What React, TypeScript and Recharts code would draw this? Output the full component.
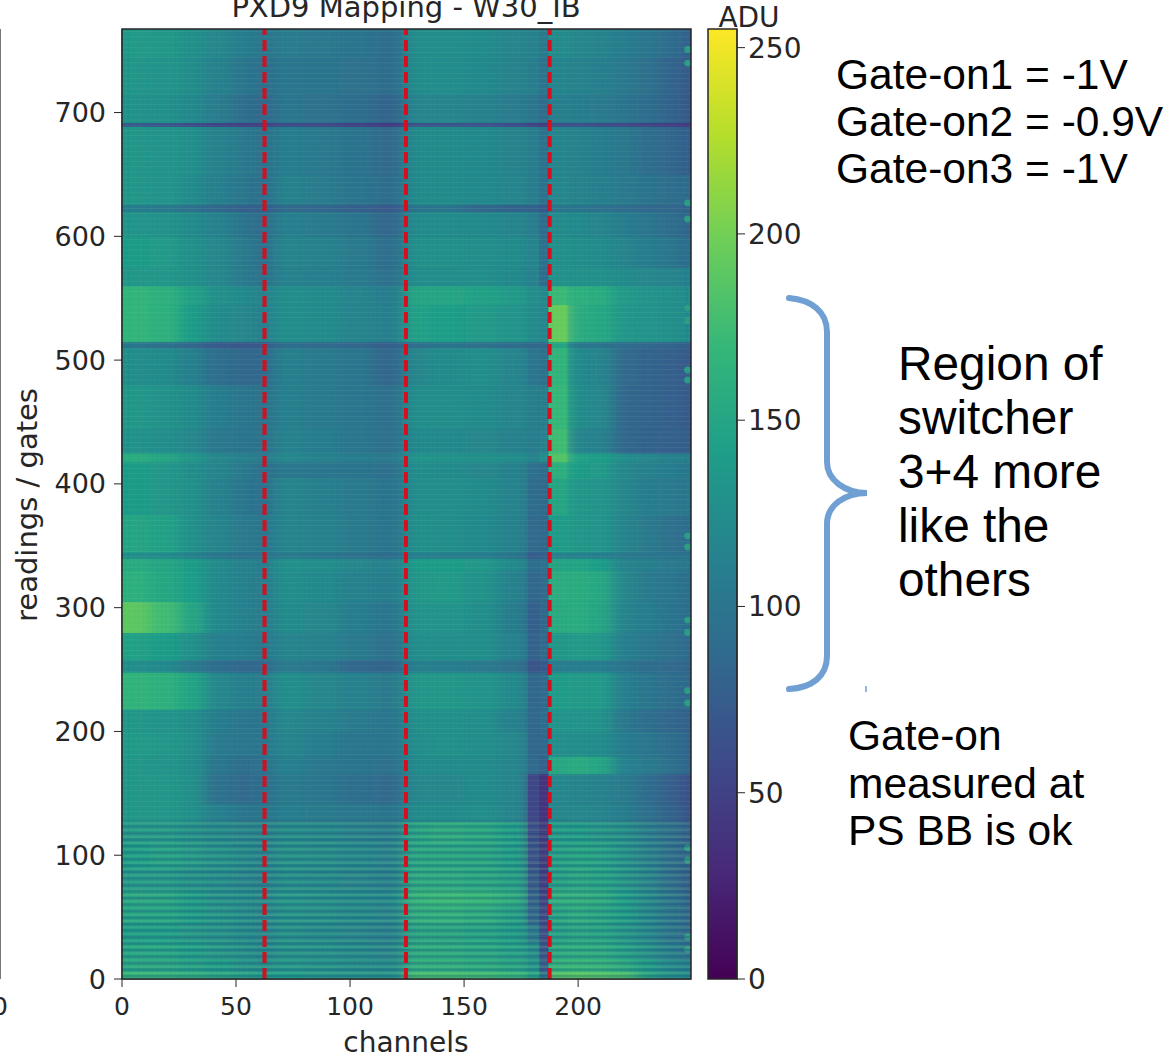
import { BarChart, Bar, ScatterChart, Scatter, XAxis, YAxis, ReferenceLine, ReferenceArea } from 'recharts'

// column and row edges of the heatmap blocks, in channels / readings
const colEdges = [0, 12, 25, 36, 48, 58, 66, 80, 95, 110, 124, 135, 150, 165, 178, 183, 187, 195, 205, 215, 225, 235, 245, 250]
const rowEdges = [0, 6, 16, 30, 45, 60, 72, 90, 110, 127, 142, 166, 180, 200, 218, 248, 258, 280, 305, 330, 340, 345, 375, 405, 418, 425, 445, 480, 510, 515, 545, 560, 575, 600, 620, 626, 650, 689, 692, 715, 745, 768]

// ADU, bottom row first
const adu = [
  [168, 165, 160, 152, 145, 140, 140, 135, 130, 128, 178, 178, 175, 170, 150, 100, 185, 188, 185, 180, 150, 130, 120],
  [150, 150, 145, 140, 132, 125, 135, 130, 125, 122, 160, 160, 158, 150, 135, 75, 165, 168, 165, 155, 140, 120, 110],
  [148, 148, 142, 135, 128, 120, 130, 128, 122, 118, 155, 155, 152, 145, 125, 68, 155, 158, 155, 145, 130, 110, 95],
  [142, 142, 135, 130, 122, 115, 128, 122, 118, 112, 150, 150, 148, 140, 105, 60, 145, 150, 148, 135, 120, 100, 85],
  [148, 148, 140, 132, 125, 118, 130, 128, 122, 118, 160, 162, 158, 145, 85, 55, 150, 155, 150, 140, 120, 100, 85],
  [150, 150, 140, 130, 125, 118, 132, 128, 122, 120, 168, 170, 168, 156, 80, 50, 160, 160, 155, 142, 122, 100, 80],
  [138, 138, 130, 125, 118, 112, 125, 122, 118, 112, 155, 155, 152, 145, 72, 45, 145, 150, 148, 135, 118, 95, 75],
  [142, 145, 138, 130, 122, 115, 128, 125, 120, 115, 152, 152, 150, 142, 65, 42, 145, 148, 145, 132, 115, 95, 80],
  [138, 138, 130, 122, 118, 112, 122, 120, 115, 110, 150, 155, 152, 142, 60, 42, 140, 140, 135, 128, 110, 95, 78],
  [135, 135, 128, 110, 100, 98, 108, 105, 102, 98, 122, 122, 125, 116, 55, 38, 118, 118, 115, 108, 95, 80, 65],
  [135, 135, 128, 95, 88, 90, 105, 100, 92, 88, 118, 118, 122, 116, 55, 38, 118, 115, 112, 105, 90, 78, 62],
  [135, 132, 125, 100, 92, 95, 110, 102, 98, 95, 122, 122, 122, 116, 88, 80, 152, 155, 150, 112, 105, 95, 82],
  [138, 135, 128, 105, 100, 100, 115, 108, 100, 98, 125, 128, 125, 118, 85, 85, 125, 125, 122, 108, 100, 92, 80],
  [135, 132, 125, 108, 100, 98, 118, 112, 105, 100, 128, 128, 125, 112, 85, 90, 132, 132, 130, 102, 92, 85, 78],
  [165, 162, 148, 118, 110, 106, 125, 118, 112, 105, 135, 135, 132, 120, 85, 88, 140, 138, 138, 110, 100, 92, 85],
  [125, 120, 105, 90, 85, 85, 105, 100, 85, 82, 110, 108, 105, 96, 68, 72, 108, 108, 108, 98, 90, 88, 82],
  [145, 140, 128, 110, 108, 100, 115, 112, 105, 95, 125, 125, 125, 112, 80, 88, 135, 138, 135, 110, 102, 95, 88],
  [190, 175, 150, 120, 112, 105, 122, 118, 108, 100, 132, 132, 125, 108, 78, 85, 155, 158, 150, 115, 108, 98, 90],
  [162, 152, 142, 120, 112, 105, 125, 120, 112, 108, 135, 138, 130, 112, 85, 88, 158, 158, 152, 118, 105, 100, 92],
  [155, 150, 140, 122, 112, 108, 128, 125, 118, 112, 140, 140, 135, 120, 92, 95, 148, 148, 142, 115, 110, 105, 100],
  [125, 122, 112, 100, 95, 95, 105, 100, 95, 90, 110, 108, 108, 98, 75, 78, 112, 112, 110, 105, 100, 98, 95],
  [150, 145, 128, 115, 105, 98, 115, 112, 105, 98, 128, 125, 120, 112, 88, 85, 140, 135, 132, 115, 105, 95, 90],
  [140, 135, 128, 112, 100, 92, 115, 110, 105, 98, 125, 125, 122, 114, 90, 88, 150, 135, 132, 118, 108, 105, 100],
  [140, 135, 125, 115, 105, 92, 102, 100, 98, 95, 125, 122, 118, 112, 95, 90, 160, 140, 138, 118, 112, 108, 102],
  [158, 150, 135, 118, 112, 105, 118, 112, 108, 105, 132, 130, 128, 124, 115, 125, 185, 145, 142, 125, 118, 112, 110],
  [130, 125, 118, 102, 98, 95, 112, 108, 100, 95, 120, 120, 118, 112, 108, 112, 175, 115, 112, 85, 80, 78, 75],
  [135, 130, 122, 108, 100, 95, 110, 105, 100, 95, 125, 125, 122, 116, 110, 108, 170, 122, 118, 85, 82, 78, 72],
  [125, 122, 110, 92, 85, 85, 110, 105, 100, 85, 118, 122, 125, 116, 100, 95, 165, 120, 115, 88, 82, 78, 72],
  [100, 95, 85, 72, 70, 72, 90, 88, 85, 78, 95, 98, 95, 90, 85, 85, 150, 100, 98, 90, 85, 82, 75],
  [168, 162, 140, 122, 118, 110, 125, 122, 115, 110, 145, 142, 138, 132, 122, 118, 195, 158, 152, 135, 132, 128, 120],
  [168, 162, 145, 128, 120, 112, 125, 122, 115, 108, 150, 150, 145, 138, 125, 120, 172, 162, 158, 138, 132, 128, 122],
  [135, 135, 128, 118, 105, 95, 112, 110, 105, 95, 125, 125, 125, 120, 112, 90, 130, 128, 128, 122, 118, 115, 110],
  [140, 138, 128, 118, 105, 92, 115, 112, 105, 92, 128, 128, 125, 122, 115, 95, 128, 125, 122, 115, 108, 100, 90],
  [132, 130, 122, 112, 98, 88, 110, 105, 98, 85, 122, 122, 120, 115, 108, 90, 122, 120, 115, 108, 100, 92, 82],
  [108, 105, 95, 85, 78, 75, 88, 85, 78, 72, 98, 98, 85, 80, 78, 72, 100, 98, 95, 90, 85, 85, 80],
  [134, 132, 122, 110, 100, 90, 112, 106, 98, 90, 122, 122, 120, 116, 108, 95, 118, 114, 110, 105, 98, 92, 88],
  [134, 132, 126, 112, 103, 95, 108, 103, 97, 88, 122, 122, 120, 114, 108, 95, 116, 113, 108, 102, 92, 85, 75],
  [70, 65, 58, 50, 46, 46, 58, 54, 48, 42, 64, 64, 62, 56, 48, 44, 60, 60, 58, 54, 50, 46, 42],
  [130, 128, 120, 106, 92, 85, 100, 96, 90, 82, 116, 116, 112, 106, 100, 90, 110, 108, 105, 98, 90, 80, 70],
  [134, 132, 124, 112, 100, 92, 100, 98, 96, 90, 124, 124, 120, 114, 108, 98, 116, 113, 110, 104, 95, 82, 72],
  [138, 136, 128, 118, 108, 100, 106, 103, 98, 90, 125, 125, 122, 116, 112, 105, 122, 118, 114, 108, 100, 90, 78],
]

const spotReadings = [751, 740, 627, 614, 542, 532, 492, 484, 358, 349, 290, 280, 233, 223, 106, 96, 34, 24]
const dividers = [62.5, 124.5, 187.5]
const sharpCols = [14, 15, 16]
const xTicks = [0, 50, 100, 150, 200]
const yTicks = [0, 100, 200, 300, 400, 500, 600, 700]
const aduTicks = [0, 50, 100, 150, 200, 250]
const colorbar = [{ name: 'ADU', top: 255 }]

const viridis = ['#440154', '#482878', '#3e4989', '#31688e', '#26828e', '#1f9e89', '#35b779', '#6ece58', '#b5de2b', '#fde725']

const X_MAX = 249.5
const Y_MAX = 767.5
const PLOT_W = 569
const PLOT_H = 950

function hex(c: string) {
  return [1, 3, 5].map((i) => parseInt(c.slice(i, i + 2), 16))
}

function aduColor(v: number) {
  const t = (Math.min(255, Math.max(0, v)) / 255) * (viridis.length - 1)
  const i = Math.min(viridis.length - 2, Math.floor(t))
  const a = hex(viridis[i])
  const b = hex(viridis[i + 1])
  const f = t - i
  return `rgb(${a.map((p, k) => Math.round(p + (b[k] - p) * f)).join(',')})`
}

const cells = adu.flatMap((row, r) =>
  row.map((v, c) => ({
    x: (colEdges[c] + colEdges[c + 1]) / 2,
    y: (rowEdges[r] + rowEdges[r + 1]) / 2,
    w: colEdges[c + 1] - colEdges[c],
    h: rowEdges[r + 1] - rowEdges[r],
    c,
    v,
  }))
)
// the notch and the bright strip next to it keep hard edges, the rest is smoothed sideways
const sharpCells = cells.filter((d) => sharpCols.includes(d.c))
const spots = spotReadings.map((y) => ({ x: 248, y }))

function HeatCell(props: any) {
  const { cx, cy, payload } = props
  const w = (payload.w * PLOT_W) / X_MAX
  const h = (payload.h * PLOT_H) / Y_MAX
  return <rect x={cx - w / 2} y={cy - h / 2} width={w + 0.6} height={h + 0.6} fill={aduColor(payload.v)} />
}

function Spot(props: any) {
  return <circle cx={props.cx} cy={props.cy} r={3.4} fill="#2a9c85" />
}

const ink = '#262626'
const font = 'DejaVu Sans'
const xTick = { fontSize: 25, fill: ink, fontFamily: font }
const yTick = { fontSize: 27, fill: ink, fontFamily: font }
const barTick = { fontSize: 28, fill: ink, fontFamily: font }
const note = { position: 'absolute', fontFamily: 'Liberation Sans', color: '#000', whiteSpace: 'pre' } as const

export default function App() {
  return (
    <div style={{ position: 'absolute', left: 0, top: 0, width: 1170, height: 1057, background: '#fff', overflow: 'hidden' }}>
      <style>{'.heat-cells{filter:url(#sideBlur)}'}</style>
      <div style={{ position: 'absolute', left: 0, top: 29, width: 1, height: 950, background: '#777' }} />
      <div style={{ position: 'absolute', left: -8, top: 992, fontFamily: font, fontSize: 25, color: ink }}>0</div>

      <div style={{ position: 'absolute', left: 0, top: 0 }}>
        <ScatterChart width={700} height={1057} margin={{ top: 29, right: 9, bottom: 0, left: 0 }}>
          <defs>
            <filter id="sideBlur" filterUnits="userSpaceOnUse" x="122" y="29" width="569" height="950">
              <feGaussianBlur in="SourceGraphic" stdDeviation="7 0.6" result="soft" />
              <feMerge>
                <feMergeNode in="SourceGraphic" />
                <feMergeNode in="soft" />
              </feMerge>
            </filter>
            <pattern id="fineGrid" patternUnits="userSpaceOnUse" width="4.6" height="5.2">
              <path d="M0 0H4.6" stroke="#9fe0a0" strokeOpacity="0.13" strokeWidth="1.3" />
              <path d="M0 0V5.2" stroke="#14304f" strokeOpacity="0.08" strokeWidth="1" />
            </pattern>
            <pattern id="lowStripes" patternUnits="userSpaceOnUse" width="6" height="6.5">
              <path d="M0 1.2H6" stroke="#1c3f72" strokeOpacity="0.25" strokeWidth="2.4" />
              <path d="M0 4.4H6" stroke="#a8e68a" strokeOpacity="0.14" strokeWidth="2" />
            </pattern>
          </defs>
          <XAxis
            type="number"
            dataKey="x"
            domain={[0, X_MAX]}
            ticks={xTicks}
            height={78}
            tickSize={8}
            tickMargin={10}
            tick={xTick}
            stroke={ink}
            allowDataOverflow
          />
          <YAxis
            type="number"
            dataKey="y"
            domain={[0, Y_MAX]}
            ticks={yTicks}
            width={122}
            tickSize={8}
            tickMargin={8}
            tick={yTick}
            stroke={ink}
            allowDataOverflow
          />
          <Scatter className="heat-cells" data={cells} shape={HeatCell} isAnimationActive={false} />
          <Scatter data={sharpCells} shape={HeatCell} isAnimationActive={false} />
          <Scatter data={spots} shape={Spot} isAnimationActive={false} />
          <ReferenceArea x1={0} x2={X_MAX} y1={0} y2={Y_MAX} fill="url(#fineGrid)" fillOpacity={1} stroke="none" zIndex={700} />
          <ReferenceArea x1={0} x2={X_MAX} y1={0} y2={128} fill="url(#lowStripes)" fillOpacity={1} stroke="none" zIndex={700} />
          {dividers.map((x) => (
            <ReferenceLine key={x} x={x} stroke="#d4101e" strokeWidth={4} strokeDasharray="11 5" zIndex={800} />
          ))}
          <ReferenceArea x1={0} x2={X_MAX} y1={0} y2={Y_MAX} fill="none" stroke={ink} strokeWidth={1.5} zIndex={900} />
          <text x={406} y={17} textAnchor="middle" fontFamily={font} fontSize={29} fill={ink}>
            PXD9 Mapping - W30_IB
          </text>
          <text x={406} y={1052} textAnchor="middle" fontFamily={font} fontSize={28} fill={ink}>
            channels
          </text>
          <text x={37} y={505} textAnchor="middle" transform="rotate(-90 37 505)" fontFamily={font} fontSize={29} fill={ink}>
            readings / gates
          </text>
        </ScatterChart>
      </div>

      <div style={{ position: 'absolute', left: 700, top: 0 }}>
        <BarChart width={120} height={1057} data={colorbar} barCategoryGap={0} margin={{ top: 29, right: 0, bottom: 78, left: 8 }}>
          <defs>
            <linearGradient id="viridisBar" x1="0" y1="1" x2="0" y2="0">
              {viridis.map((c, i) => (
                <stop key={c} offset={i / (viridis.length - 1)} stopColor={c} />
              ))}
            </linearGradient>
          </defs>
          <XAxis dataKey="name" hide />
          <YAxis orientation="right" type="number" domain={[0, 255]} ticks={aduTicks} width={83} tickSize={8} tickMargin={3} tick={barTick} stroke={ink} />
          <Bar dataKey="top" fill="url(#viridisBar)" stroke={ink} strokeWidth={1.5} isAnimationActive={false} />
          <text x={49} y={27} textAnchor="middle" fontFamily={font} fontSize={28} fill={ink}>
            ADU
          </text>
        </BarChart>
      </div>

      <svg width={1170} height={1057} style={{ position: 'absolute', left: 0, top: 0, pointerEvents: 'none' }}>
        <path
          d="M789 298 C812 300 827 312 827 332 L827 462 C827 480 845 493 867 493 C845 493 827 505 827 524 L827 656 C827 676 812 688 789 689"
          fill="none"
          stroke="#6f9fd3"
          strokeWidth={6}
          strokeLinecap="round"
        />
        <path d="M866 686V692" stroke="#6f9fd3" strokeWidth={1.5} />
      </svg>

      <div style={{ ...note, left: 836, top: 51, fontSize: 42.5, lineHeight: '47px' }}>{'Gate-on1 = -1V\nGate-on2 = -0.9V\nGate-on3 = -1V'}</div>
      <div style={{ ...note, left: 898, top: 337, fontSize: 47.8, lineHeight: '54px' }}>{'Region of\nswitcher\n3+4 more\nlike the\nothers'}</div>
      <div style={{ ...note, left: 848, top: 712, fontSize: 42.5, lineHeight: '47.5px' }}>{'Gate-on\nmeasured at\nPS BB is ok'}</div>
    </div>
  )
}
